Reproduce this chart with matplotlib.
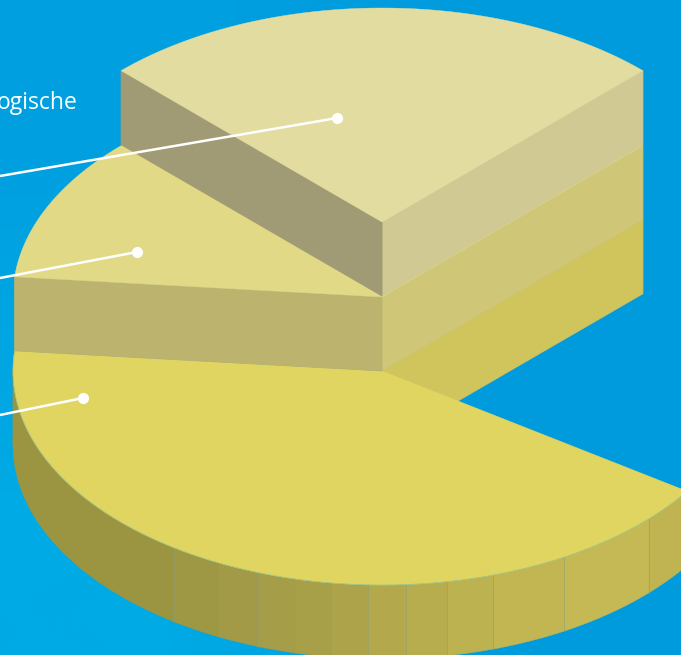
import numpy as np
import matplotlib.pyplot as plt
from matplotlib.patches import Polygon

# shares of the three stacked slices in percent, the rest of the circle stays open
slice_shares = [25, 11, 42]
slice_names = ['ogische']

start_angle = 45
rx, ry = 369, 214
cx = 382
layer_y = [222, 297, 371]
depth = 74

top_colors = ['#e2dca1', '#e1d985', '#e1d562']
right_wall_colors = ['#d0c994', '#cfc678', '#d0c45c']
left_wall_colors = ['#a09b74', '#bbb36e']

# rim facets of the lower slice, left to right
facet_x = [13, 174, 219, 258, 295, 331, 368, 406, 447, 493, 564, 649, 690]
facet_colors = ['#9b9441', '#9e9743', '#a29a46', '#a69d48', '#a89f49', '#aca34a',
                '#b3a94c', '#b8ad4e', '#bdb250', '#c2b652', '#c5b955', '#bfb451']

# leader lines: left end y, dot x, dot y
leader_y0 = [176, 278, 415]
leader_dot_x = [337, 137, 83]
leader_dot_y = [118, 252, 398]


def pt(y0, a):
    a = np.radians(a)
    return np.array([cx + rx * np.cos(a), y0 - ry * np.sin(a)])


def arc(y0, a0, a1, n=200):
    a = np.radians(np.linspace(a0, a1, n))
    return np.column_stack([cx + rx * np.cos(a), y0 - ry * np.sin(a)])


def wall(ax, y0, a, color):
    p = pt(y0, a)
    c = [cx, y0]
    ax.add_patch(Polygon([c, p, p + [0, depth], [cx, y0 + depth]], closed=True,
                         fc=color, ec=color, lw=0.6, zorder=3))


def sector(ax, y0, a0, a1, color):
    pts = np.vstack([[cx, y0], arc(y0, a0, a1)])
    ax.add_patch(Polygon(pts, closed=True, fc=color, ec=color, lw=0.3, zorder=3))


def facet_angle(x):
    # angle on the front half of the ellipse for a given x
    return 360 - np.degrees(np.arccos(np.clip((x - cx) / rx, -1, 1)))


fig = plt.figure(figsize=(6.81, 6.55), dpi=100)
ax = fig.add_axes([0, 0, 1, 1])
ax.set_xlim(0, 681)
ax.set_ylim(655, 0)
ax.axis('off')

# background, slightly more cyan towards the lower left
grad = np.array([[[0, 160, 224], [0, 155, 221]],
                 [[0, 170, 228], [0, 155, 221]]], dtype=float) / 255
ax.imshow(grad, extent=[0, 681, 655, 0], aspect='auto', interpolation='bilinear', zorder=0)

edges = start_angle + np.cumsum([0] + [s * 3.6 for s in slice_shares])
a_top, a_mid, a_low = edges[1], edges[2], edges[3]

# lower layer: rim first, then the flat wall and the top face
y = layer_y[2]
left_rim = np.vstack([arc(y, a_mid, 180, 20), arc(y + depth, 180, a_mid, 20)])
ax.add_patch(Polygon(left_rim, closed=True, fc=facet_colors[0], ec=facet_colors[0], lw=0.3, zorder=2))
for i, col in enumerate(facet_colors):
    a0 = facet_angle(facet_x[i])
    a1 = min(facet_angle(facet_x[i + 1]), a_low)
    pts = np.vstack([arc(y, a0, a1, 40), arc(y + depth, a1, a0, 40)])
    ax.add_patch(Polygon(pts, closed=True, fc=col, ec=col, lw=0.3, zorder=2))
for x in facet_x[1:-1]:
    p = pt(y, facet_angle(x))
    ax.plot([p[0], p[0]], [p[1], p[1] + depth], color='#8f9f6e', lw=0.6, alpha=0.7, zorder=2.5)

wall(ax, y, start_angle, right_wall_colors[2])
sector(ax, y, a_mid, a_low, top_colors[2])
lo = arc(y, a_mid, a_low)
ax.plot(lo[:, 0], lo[:, 1], color='#9cc48c', lw=0.5, zorder=3.2)

# middle layer, top face runs on under the upper layer
y = layer_y[1]
wall(ax, y, start_angle, right_wall_colors[1])
wall(ax, y, a_mid, left_wall_colors[1])
sector(ax, y, start_angle, a_mid, top_colors[1])

# upper layer
y = layer_y[0]
wall(ax, y, start_angle, right_wall_colors[0])
wall(ax, y, a_top, left_wall_colors[0])
sector(ax, y, start_angle, a_top, top_colors[0])

# leader lines with dots
for y0, dx, dy in zip(leader_y0, leader_dot_x, leader_dot_y):
    ax.plot([0, dx], [y0, dy], color='white', lw=1.8, solid_capstyle='butt', zorder=5)
    ax.plot(dx, dy, 'o', color='white', ms=8, mew=0, zorder=6)

ax.text(78, 109, slice_names[0], color='white', fontsize=16.5, family='Open Sans',
        ha='right', va='baseline', zorder=6)

plt.savefig('out.png', dpi=100)
plt.close()
